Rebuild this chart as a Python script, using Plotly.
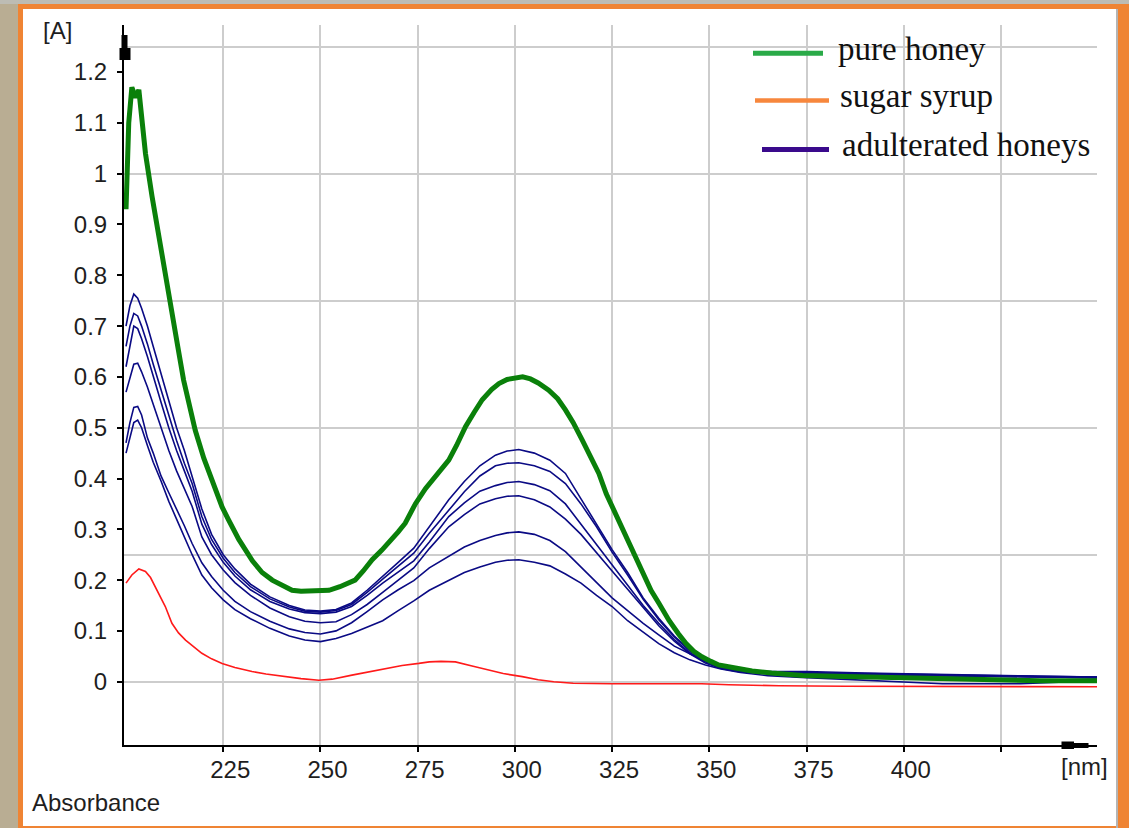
import plotly.graph_objects as go

# ---------------- data ----------------
WL_GREEN = [200, 200.7, 201.5, 202.5, 203.3, 204, 205, 206.7, 208.4, 210.1,
            211.8, 213.3, 214.8, 216.3, 217.8, 220, 222.1, 224.7, 226.4, 229,
            232.5, 235, 237.6, 240, 242.7, 245, 250, 252.2, 255, 258.9,
            261, 263.3, 265.8, 267.6, 270, 271.8, 274.4, 277, 280, 283,
            285, 287.3, 289.5, 291.6, 294, 295.9, 298, 300, 302, 304,
            306, 308.7, 311, 313, 315, 317.3, 319.5, 321.6, 323.5, 325.9,
            328, 330.1, 332, 335, 337, 339.6, 342, 343.9, 346, 348.1,
            350.4, 352.4, 356.7, 361, 366, 374, 385, 395, 410, 425,
            435, 450]
A_GREEN = [0.93, 1.10, 1.17, 1.15, 1.165, 1.11, 1.04, 0.955, 0.876, 0.804,
           0.725, 0.66, 0.594, 0.54, 0.495, 0.44, 0.397, 0.344, 0.318, 0.28,
           0.238, 0.215, 0.200, 0.19, 0.180, 0.178, 0.178, 0.180, 0.187, 0.200,
           0.218, 0.240, 0.259, 0.273, 0.295, 0.312, 0.35, 0.38, 0.41, 0.436,
           0.465, 0.502, 0.53, 0.555, 0.575, 0.587, 0.595, 0.598, 0.600, 0.596,
           0.588, 0.574, 0.557, 0.535, 0.51, 0.476, 0.44, 0.41, 0.37, 0.33,
           0.295, 0.259, 0.228, 0.18, 0.155, 0.121, 0.095, 0.076, 0.06, 0.049,
           0.040, 0.033, 0.027, 0.021, 0.017, 0.012, 0.010, 0.008, 0.006, 0.004,
           0.002, 0.002]

WL_RED = [200, 201.5, 203.3, 205, 206.3, 207.5, 209, 210.1, 211.8, 213.5,
          215.3, 217.5, 219.5, 222, 224.7, 228, 232.4, 236, 241, 245,
          249.6, 253, 258.1, 262, 266.6, 271, 275.3, 278, 281, 284.7,
          289, 293.3, 297, 301.9, 306, 310, 315, 325, 335, 348,
          355, 368, 385, 400, 420, 434, 450]
A_RED = [0.194, 0.21, 0.222, 0.217, 0.205, 0.187, 0.165, 0.148, 0.115, 0.096,
         0.082, 0.068, 0.056, 0.045, 0.036, 0.028, 0.020, 0.015, 0.010, 0.006,
         0.003, 0.005, 0.013, 0.019, 0.026, 0.032, 0.036, 0.039, 0.040, 0.039,
         0.031, 0.023, 0.016, 0.010, 0.004, 0.000, -0.003, -0.004, -0.004, -0.004,
         -0.006, -0.008, -0.009, -0.009, -0.010, -0.010, -0.010]

WL_BLUE = [200, 201, 202, 203, 204, 205.5, 207, 209, 211, 213,
           215, 217, 219.5, 222, 225, 228, 232, 237, 242, 246,
           250, 254, 258, 262, 266, 270, 274, 278, 283, 287,
           291, 295, 298, 301, 305, 309, 313, 317, 321, 325,
           329, 333, 337, 341, 345, 349, 353, 358, 365, 375,
           390, 410, 430, 450]
A_BLUE_1 = [0.70, 0.74, 0.763, 0.755, 0.735, 0.70, 0.66, 0.605, 0.55, 0.50,
            0.455, 0.405, 0.34, 0.29, 0.25, 0.222, 0.192, 0.167, 0.150, 0.141,
            0.139, 0.142, 0.155, 0.180, 0.207, 0.235, 0.263, 0.305, 0.358, 0.394,
            0.425, 0.446, 0.454, 0.457, 0.45, 0.436, 0.41, 0.36, 0.31, 0.26,
            0.215, 0.165, 0.125, 0.09, 0.062, 0.042, 0.03, 0.022, 0.02, 0.02,
            0.017, 0.014, 0.011, 0.009]
A_BLUE_2 = [0.66, 0.70, 0.725, 0.72, 0.70, 0.665, 0.625, 0.575, 0.52, 0.475,
            0.43, 0.39, 0.325, 0.28, 0.243, 0.215, 0.187, 0.163, 0.147, 0.139,
            0.137, 0.14, 0.152, 0.176, 0.202, 0.228, 0.253, 0.292, 0.338, 0.374,
            0.405, 0.425, 0.43, 0.431, 0.425, 0.414, 0.39, 0.35, 0.305, 0.255,
            0.21, 0.162, 0.122, 0.088, 0.06, 0.041, 0.029, 0.021, 0.018, 0.018,
            0.016, 0.013, 0.011, 0.009]
A_BLUE_3 = [0.62, 0.66, 0.70, 0.695, 0.675, 0.64, 0.60, 0.55, 0.50, 0.455,
            0.415, 0.375, 0.31, 0.27, 0.235, 0.208, 0.181, 0.158, 0.143, 0.136,
            0.134, 0.137, 0.148, 0.170, 0.194, 0.216, 0.238, 0.275, 0.325, 0.352,
            0.375, 0.386, 0.392, 0.394, 0.388, 0.376, 0.35, 0.31, 0.27, 0.228,
            0.19, 0.15, 0.115, 0.083, 0.057, 0.039, 0.027, 0.02, 0.017, 0.016,
            0.015, 0.012, 0.01, 0.008]
A_BLUE_4 = [0.57, 0.60, 0.625, 0.627, 0.61, 0.58, 0.545, 0.50, 0.455, 0.415,
            0.38, 0.345, 0.285, 0.25, 0.22, 0.195, 0.17, 0.145, 0.128, 0.119,
            0.116, 0.118, 0.132, 0.152, 0.176, 0.20, 0.224, 0.262, 0.305, 0.329,
            0.35, 0.36, 0.365, 0.366, 0.358, 0.344, 0.32, 0.29, 0.255, 0.218,
            0.182, 0.145, 0.11, 0.08, 0.055, 0.037, 0.026, 0.019, 0.016, 0.015,
            0.014, 0.012, 0.01, 0.008]
A_BLUE_5 = [0.47, 0.51, 0.54, 0.542, 0.525, 0.48, 0.45, 0.405, 0.372, 0.34,
            0.307, 0.272, 0.234, 0.207, 0.18, 0.158, 0.138, 0.119, 0.104, 0.097,
            0.094, 0.10, 0.116, 0.138, 0.161, 0.181, 0.199, 0.224, 0.246, 0.265,
            0.278, 0.288, 0.293, 0.295, 0.29, 0.278, 0.256, 0.226, 0.195, 0.165,
            0.14, 0.115, 0.092, 0.07, 0.055, 0.041, 0.03, 0.022, 0.018, 0.016,
            0.014, 0.012, 0.010, 0.008]
A_BLUE_6 = [0.45, 0.48, 0.51, 0.515, 0.50, 0.465, 0.432, 0.395, 0.355, 0.32,
            0.285, 0.25, 0.21, 0.185, 0.161, 0.142, 0.124, 0.105, 0.090, 0.082,
            0.079, 0.085, 0.095, 0.108, 0.12, 0.14, 0.159, 0.18, 0.20, 0.215,
            0.226, 0.235, 0.239, 0.240, 0.235, 0.228, 0.212, 0.194, 0.17, 0.148,
            0.12, 0.097, 0.075, 0.057, 0.043, 0.033, 0.025, 0.018, 0.012, 0.008,
            0.003, -0.004, -0.004, 0.002]
BLUE_SERIES = [A_BLUE_1, A_BLUE_2, A_BLUE_3, A_BLUE_4, A_BLUE_5, A_BLUE_6]

X_RANGE = [199.48, 449.7]
Y_RANGE = [-0.1246, 1.2927]
X_TICKS = [225, 250, 275, 300, 325, 350, 375, 400, 425]
X_TICK_TEXT = ["225", "250", "275", "300", "325", "350", "375", "400", ""]
Y_TICKS = [0, 0.1, 0.2, 0.3, 0.4, 0.5, 0.6, 0.7, 0.8, 0.9, 1.0, 1.1, 1.2]
Y_TICK_TEXT = ["0", "0.1", "0.2", "0.3", "0.4", "0.5", "0.6", "0.7", "0.8",
               "0.9", "1", "1.1", "1.2"]
Y_GRID = [0, 0.25, 0.5, 0.75, 1.0, 1.25]
LEGEND_LABELS = ["pure honey", "sugar syrup", "adulterated honeys"]

# ---------------- layout helpers (pixel -> paper) ----------------
W, H = 1129, 828
ML, MR, MT, MB = 124, 32, 25, 83
PW, PH = W - ML - MR, H - MT - MB


def xp(px):
    return (px - ML) / PW


def yp(py):
    return (H - MB - py) / PH


TICK_FONT = dict(family="Liberation Sans, Arial, sans-serif", size=24, color="#1e1e1e")
LEG_FONT = dict(family="Liberation Serif, Times New Roman, serif", size=33, color="#111111")
GRID_COLOR = "#cdcdcd"

fig = go.Figure()

fig.add_trace(go.Scatter(x=WL_RED, y=A_RED, mode="lines",
                         line=dict(color="#ff1a1a", width=1.6),
                         name=LEGEND_LABELS[1], showlegend=False))
for ser in BLUE_SERIES:
    fig.add_trace(go.Scatter(x=WL_BLUE, y=ser, mode="lines",
                             line=dict(color="#0a0a84", width=1.6),
                             name=LEGEND_LABELS[2], showlegend=False))
fig.add_trace(go.Scatter(x=WL_GREEN, y=A_GREEN, mode="lines",
                         line=dict(color="#0a800a", width=5),
                         name=LEGEND_LABELS[0], showlegend=False))
# carrier for the 0.25-step horizontal grid axis
fig.add_trace(go.Scatter(x=[], y=[], yaxis="y2", showlegend=False, hoverinfo="skip"))

shapes = []
# top grey strip of the surrounding window
shapes.append(dict(type="rect", xref="paper", yref="paper", layer="below",
                   x0=xp(0), x1=xp(W), y0=yp(4), y1=yp(0),
                   fillcolor="#bdbcb4", line=dict(width=0)))
# white panel with orange frame
shapes.append(dict(type="rect", xref="paper", yref="paper", layer="below",
                   x0=xp(20.5), x1=xp(1120.5), y0=yp(828.5), y1=yp(6.5),
                   fillcolor="white", line=dict(color="#ef8434", width=5)))
shapes.append(dict(type="rect", xref="paper", yref="paper", layer="below",
                   x0=xp(1118), x1=xp(W + 2), y0=yp(H + 2), y1=yp(4),
                   fillcolor="#ef8434", line=dict(width=0)))
shapes.append(dict(type="line", xref="paper", yref="paper", layer="below",
                   x0=xp(1117), x1=xp(1117), y0=yp(H), y1=yp(9),
                   line=dict(color="#b4b4b4", width=2)))


# arrow heads at the axis ends
def poly(points):
    return "M " + " L ".join(f"{xp(a):.5f},{yp(b):.5f}" for a, b in points) + " Z"


shapes.append(dict(type="path", xref="paper", yref="paper", layer="above",
                   path=poly([(121.5, 35), (127.5, 35), (127.5, 48), (130.5, 48),
                              (130.5, 60), (119.5, 60), (119.5, 48), (121.5, 48)]),
                   fillcolor="black", line=dict(width=0)))
shapes.append(dict(type="path", xref="paper", yref="paper", layer="above",
                   path=poly([(1061.5, 741.5), (1074, 741.5), (1074, 743), (1088.5, 743),
                              (1088.5, 748), (1074, 748), (1074, 749), (1061.5, 749)]),
                   fillcolor="black", line=dict(width=0)))
# legend sample lines
LEG_LINES = [((753, 823, 53.3), "#2aaa48", 5),
             ((755, 829, 100.5), "#f7873d", 4.5),
             ((762, 829, 149.5), "#3a0a8c", 5)]
for (x0, x1, yy), col, wd in LEG_LINES:
    shapes.append(dict(type="line", xref="paper", yref="paper", layer="above",
                       x0=xp(x0), x1=xp(x1), y0=yp(yy), y1=yp(yy),
                       line=dict(color=col, width=wd)))

annotations = []
LEG_TEXT_POS = [(836, 48.5), (838, 96.5), (840, 145.5)]
for label, (tx, ty) in zip(LEGEND_LABELS, LEG_TEXT_POS):
    annotations.append(dict(text=label, xref="paper", yref="paper", x=xp(tx), y=yp(ty),
                            xanchor="left", yanchor="middle", showarrow=False,
                            font=LEG_FONT))
annotations.append(dict(text="[A]", xref="paper", yref="paper", x=xp(57), y=yp(31),
                        xanchor="center", yanchor="middle", showarrow=False, font=TICK_FONT))
annotations.append(dict(text="Absorbance", xref="paper", yref="paper", x=xp(30), y=yp(802),
                        xanchor="left", yanchor="middle", showarrow=False, font=TICK_FONT))
annotations.append(dict(text="[nm]", xref="paper", yref="paper", x=xp(1084), y=yp(767),
                        xanchor="center", yanchor="middle", showarrow=False, font=TICK_FONT))

fig.update_layout(
    width=W, height=H, autosize=False,
    margin=dict(l=ML, r=MR, t=MT, b=MB, pad=0),
    paper_bgcolor="#b9ad93", plot_bgcolor="white",
    showlegend=False,
    shapes=shapes, annotations=annotations,
    xaxis=dict(range=X_RANGE, tickmode="array", tickvals=X_TICKS, ticktext=X_TICK_TEXT,
               showgrid=True, gridcolor=GRID_COLOR, gridwidth=2, zeroline=False,
               showline=True, linecolor="black", linewidth=2,
               ticks="outside", ticklen=5, tickwidth=2, tickcolor="black",
               tickfont=TICK_FONT, ticklabelshift=7, ticklabelstandoff=-3),
    yaxis=dict(range=Y_RANGE, tickmode="array", tickvals=Y_TICKS, ticktext=Y_TICK_TEXT,
               showgrid=False, zeroline=False,
               showline=True, linecolor="black", linewidth=2,
               ticks="outside", ticklen=5, tickwidth=2, tickcolor="black",
               tickfont=TICK_FONT, ticklabelstandoff=5),
    yaxis2=dict(range=Y_RANGE, overlaying="y", side="left", tickmode="array",
                tickvals=Y_GRID, showticklabels=False, ticks="",
                showgrid=True, gridcolor=GRID_COLOR, gridwidth=2,
                zeroline=False, showline=False),
)

fig.write_html(
    "out.html",
    config={"displayModeBar": False},
    post_script="document.body.style.margin='0';document.body.style.overflow='hidden';",
)
